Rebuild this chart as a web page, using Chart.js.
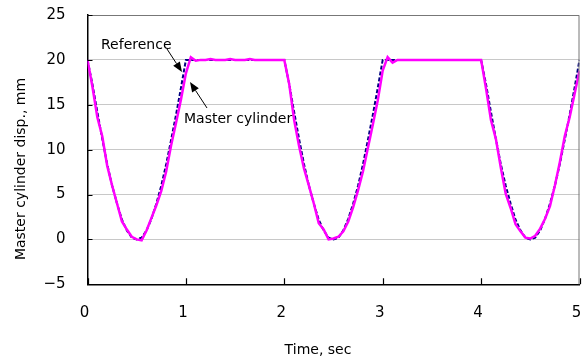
<!DOCTYPE html>
<html>
<head>
<meta charset="utf-8">
<script src="https://cdn.jsdelivr.net/npm/chart.js@4"></script>
<style>
  html, body { margin: 0; padding: 0; background: #fff; }
  #wrap { width: 586px; height: 363px; }
</style>
</head>
<body>
<div id="wrap"><canvas id="disp"></canvas></div>
<script>
const timeSec = [
  0.00, 0.05, 0.10, 0.15, 0.20, 0.25, 0.30, 0.35, 0.40, 0.45,
  0.50, 0.55, 0.60, 0.65, 0.70, 0.75, 0.80, 0.85, 0.90, 0.95,
  1.00, 1.05, 1.10, 1.15, 1.20, 1.25, 1.30, 1.35, 1.40, 1.45,
  1.50, 1.55, 1.60, 1.65, 1.70, 1.75, 1.80, 1.85, 1.90, 1.95,
  2.00, 2.05, 2.10, 2.15, 2.20, 2.25, 2.30, 2.35, 2.40, 2.45,
  2.50, 2.55, 2.60, 2.65, 2.70, 2.75, 2.80, 2.85, 2.90, 2.95,
  3.00, 3.05, 3.10, 3.15, 3.20, 3.25, 3.30, 3.35, 3.40, 3.45,
  3.50, 3.55, 3.60, 3.65, 3.70, 3.75, 3.80, 3.85, 3.90, 3.95,
  4.00, 4.05, 4.10, 4.15, 4.20, 4.25, 4.30, 4.35, 4.40, 4.45,
  4.50, 4.55, 4.60, 4.65, 4.70, 4.75, 4.80, 4.85, 4.90, 4.95,
  5.00
];

const referenceDisp = [
  20, 17.3, 14.2, 11.2, 8.4, 6.0, 4.0, 2.2, 1.0, 0.2,
  0.0, 0.2, 1.0, 2.3, 4.0, 6.0, 8.4, 11.1, 13.9, 16.9,
  20, 20, 20, 20, 20, 20, 20, 20, 20, 20,
  20, 20, 20, 20, 20, 20, 20, 20, 20, 20,
  20, 17.3, 14.2, 11.2, 8.4, 6.0, 4.0, 2.2, 1.0, 0.2,
  0.0, 0.2, 1.0, 2.3, 4.0, 6.0, 8.4, 11.1, 13.9, 16.9,
  20, 20, 20, 20, 20, 20, 20, 20, 20, 20,
  20, 20, 20, 20, 20, 20, 20, 20, 20, 20,
  20, 17.3, 14.2, 11.2, 8.4, 6.0, 4.0, 2.2, 1.0, 0.2,
  0.0, 0.2, 1.0, 2.3, 4.0, 6.0, 8.4, 11.1, 13.9, 16.9,
  20
];

const masterDisp = [
  20, 17.0, 13.6, 11.5, 8.2, 6.0, 4.0, 2.0, 1.1, 0.3,
  0.0, -0.1, 1.0, 2.4, 3.8, 5.4, 7.6, 10.5, 13.0, 15.6,
  18.5, 20.3, 19.9, 20.0, 20.0, 20.1, 20.0, 20.0, 20.0, 20.1,
  20.0, 20.0, 20.0, 20.1, 20.0, 20.0, 20.0, 20.0, 20.0, 20.0,
  20.0, 17.3, 13.3, 10.4, 7.9, 6.0, 4.0, 1.8, 1.1, 0.0,
  0.1, 0.3, 0.9, 2.0, 3.6, 5.5, 7.6, 10.2, 12.8, 15.5,
  18.8, 20.3, 19.7, 20.0, 20.0, 20.0, 20.0, 20.0, 20.0, 20.0,
  20.0, 20.0, 20.0, 20.0, 20.0, 20.0, 20.0, 20.0, 20.0, 20.0,
  20.0, 16.8, 13.3, 11.2, 8.0, 5.1, 3.5, 1.7, 0.9, 0.2,
  0.1, 0.4, 1.2, 2.3, 3.7, 6.0, 8.6, 11.5, 13.6, 16.2,
  18.8
];

const xTicks = [0, 1, 2, 3, 4, 5];
const yTicks = [-5, 0, 5, 10, 15, 20, 25];

const FONT = "DejaVu Sans";

function toPoints(ys) {
  return timeSec.map((t, i) => ({ x: t, y: ys[i] }));
}

// frame, inner ticks, axis titles and the two arrow notes
const decorations = {
  id: "decorations",
  afterDraw(chart) {
    const ctx = chart.ctx;
    const a = chart.chartArea;
    const sx = chart.scales.x;
    const sy = chart.scales.y;
    ctx.save();

    ctx.strokeStyle = "#777";
    ctx.lineWidth = 1;
    ctx.beginPath();
    ctx.moveTo(a.left, a.top + 0.5);
    ctx.lineTo(a.right - 0.5, a.top + 0.5);
    ctx.lineTo(a.right - 0.5, a.bottom);
    ctx.stroke();

    ctx.strokeStyle = "#000";
    ctx.lineWidth = 1.2;
    ctx.beginPath();
    xTicks.forEach((v) => {
      const px = Math.round(sx.getPixelForValue(v)) + 0.5;
      ctx.moveTo(px, a.bottom);
      ctx.lineTo(px, a.bottom - 6);
    });
    yTicks.forEach((v) => {
      const py = Math.round(sy.getPixelForValue(v)) + 0.5;
      ctx.moveTo(a.left, py);
      ctx.lineTo(a.left + 5, py);
    });
    ctx.stroke();

    ctx.fillStyle = "#000";
    ctx.font = "14px '" + FONT + "'";
    ctx.textAlign = "center";
    ctx.textBaseline = "alphabetic";
    ctx.fillText("Time, sec", 318, 354);

    ctx.save();
    ctx.translate(25, 169);
    ctx.rotate(-Math.PI / 2);
    ctx.fillText("Master cylinder disp., mm", 0, 0);
    ctx.restore();

    ctx.textAlign = "left";
    ctx.fillText("Reference", 101, 49);
    ctx.fillText("Master cylinder", 184, 123);

    arrow(ctx, 167, 49, 182, 72);
    arrow(ctx, 207, 108, 190, 82);
    ctx.restore();
  },
};

function arrow(ctx, x0, y0, x1, y1) {
  const ang = Math.atan2(y1 - y0, x1 - x0);
  const len = 10, half = 4;
  ctx.strokeStyle = "#000";
  ctx.lineWidth = 1;
  ctx.beginPath();
  ctx.moveTo(x0, y0);
  ctx.lineTo(x1 - Math.cos(ang) * len, y1 - Math.sin(ang) * len);
  ctx.stroke();
  const bx = x1 - Math.cos(ang) * len, by = y1 - Math.sin(ang) * len;
  ctx.beginPath();
  ctx.moveTo(x1, y1);
  ctx.lineTo(bx + Math.sin(ang) * half, by - Math.cos(ang) * half);
  ctx.lineTo(bx - Math.sin(ang) * half, by + Math.cos(ang) * half);
  ctx.closePath();
  ctx.fill();
}

new Chart(document.getElementById("disp"), {
  type: "scatter",
  data: {
    datasets: [
      {
        label: "Master cylinder",
        data: toPoints(masterDisp),
        showLine: true,
        borderColor: "#ff00ff",
        borderWidth: 2.5,
        pointRadius: 0,
        tension: 0,
        order: 0,
      },
      {
        label: "Reference",
        data: toPoints(referenceDisp),
        showLine: true,
        borderColor: "#000080",
        borderWidth: 2,
        borderDash: [4, 2],
        pointRadius: 0,
        tension: 0,
        order: 1,
      },
    ],
  },
  options: {
    responsive: true,
    maintainAspectRatio: false,
    animation: false,
    devicePixelRatio: 1,
    layout: { padding: { top: 15, right: 6.5, left: 0, bottom: 0 } },
    plugins: {
      legend: { display: false },
      tooltip: { enabled: false },
    },
    scales: {
      x: {
        type: "linear",
        min: 0,
        max: 5,
        afterFit: (s) => {
          s.height = 78.7;
          s.paddingLeft = 0;
          s.paddingRight = 0;
        },
        afterBuildTicks: (s) => { s.ticks = xTicks.map((v) => ({ value: v })); },
        ticks: {
          color: "#000",
          font: { family: FONT, size: 15 },
          padding: 20,
          labelOffset: -3,
          maxRotation: 0,
        },
        grid: { display: false, drawTicks: false },
        border: { display: true, color: "#000", width: 1.5 },
      },
      y: {
        min: -5,
        max: 25,
        afterFit: (s) => {
          s.width = 87.5;
          s.paddingTop = 0;
          s.paddingBottom = 0;
        },
        afterBuildTicks: (s) => { s.ticks = yTicks.map((v) => ({ value: v })); },
        ticks: {
          color: "#000",
          font: { family: FONT, size: 15 },
          padding: 22,
          callback: (v) => (v < 0 ? "\u2212" + Math.abs(v) : String(v)),
        },
        grid: { color: "#c8c8c8", lineWidth: 1, drawTicks: false },
        border: { display: true, color: "#000", width: 1.5 },
      },
    },
  },
  plugins: [decorations],
});
</script>
</body>
</html>
